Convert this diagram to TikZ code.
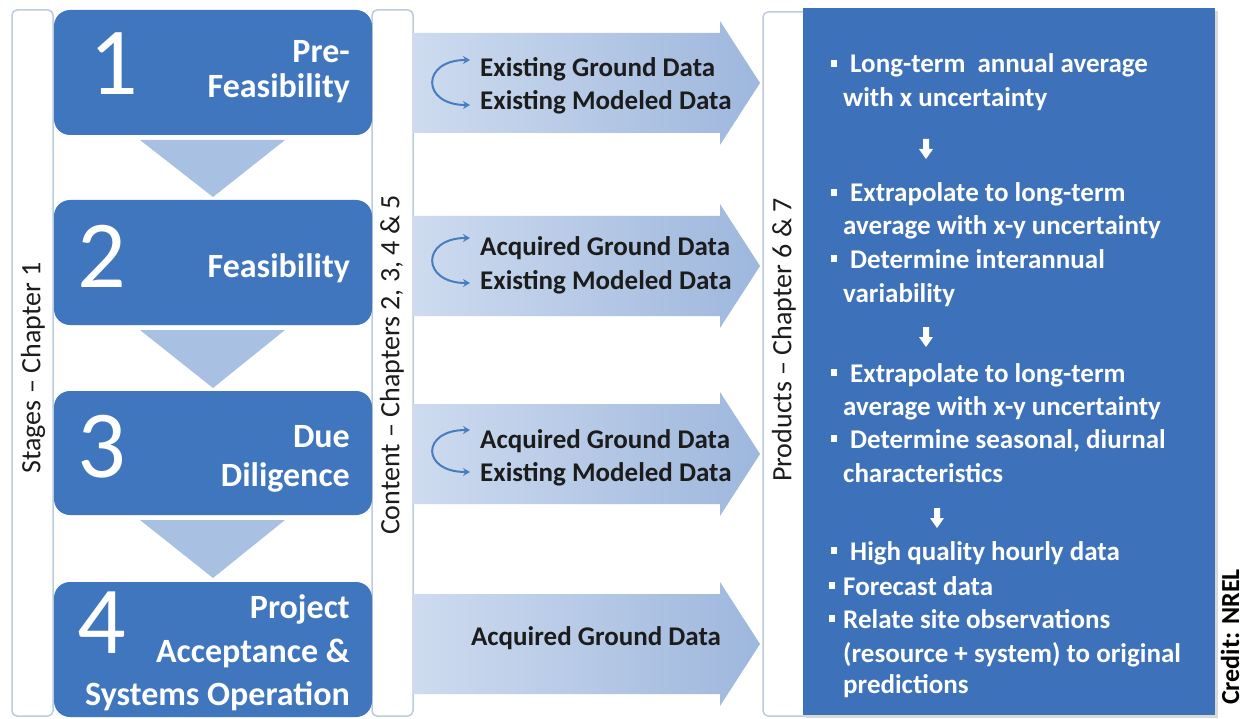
\documentclass[tikz,border=0pt]{standalone}
\usepackage{fontspec}
\setmainfont{Carlito}
\usetikzlibrary{arrows.meta}
\definecolor{stageblue}{RGB}{63,118,190}
\definecolor{prodblue}{RGB}{61,114,186}
\definecolor{tri}{RGB}{168,192,226}
\definecolor{barline}{RGB}{188,203,222}
\definecolor{arrL}{RGB}{206,219,239}
\definecolor{arrR}{RGB}{158,183,221}
\definecolor{curlc}{RGB}{70,125,190}
\definecolor{txt}{RGB}{28,28,28}
\newcommand{\cArrow}[1]{\shade[left color=arrL, right color=arrR] (413,#1-50) -- (720,#1-50) -- (720,#1-62) -- (760,#1) -- (720,#1+62) -- (720,#1+50) -- (413,#1+50) -- cycle;}
\newcommand{\dArrow}[2]{\fill[white] (#1-3,#2) -- (#1+3,#2) -- (#1+3,#2+10) -- (#1+7,#2+10) -- (#1,#2+20) -- (#1-7,#2+10) -- (#1-3,#2+10) -- cycle;}
\newcommand{\pBullet}[2]{\fill[white] (#1-3,#2-13) rectangle (#1+3,#2-6);}
\begin{document}
\begin{tikzpicture}[x=1pt,y=-1pt,
  bar/.style={draw=barline, line width=1.5pt, fill=white, rounded corners=5pt},
  stagebox/.style={fill=stageblue, rounded corners=16pt},
  num/.style={text=white, inner sep=0pt, font=\fontsize{96}{96}\selectfont},
  stagetxt/.style={text=white, inner sep=0pt, anchor=base east, font=\bfseries\fontsize{34}{36}\selectfont},
  sidelabel/.style={text=txt, inner sep=0pt, rotate=90, font=\fontsize{28}{30}\selectfont},
  arrtxt/.style={text=txt, inner sep=0pt, anchor=base west, font=\bfseries\fontsize{27}{30}\selectfont},
  ptxt/.style={text=white, inner sep=0pt, anchor=base west, font=\bfseries\fontsize{27}{30}\selectfont},
  curlarrow/.style={draw=curlc, line width=2pt, {Stealth[length=7pt,width=8pt]}-{Stealth[length=7pt,width=8pt]}}
]
\useasboundingbox (0,0) rectangle (1246,719);
\fill[white] (0,0) rectangle (1246,719);

% side bars
\draw[bar] (12,10) rectangle (53,716);
\draw[bar] (372,10) rectangle (413,716);
\draw[bar] (763,12) rectangle (830,716);

% stage boxes
\fill[stagebox] (54,10) rectangle (372,135);
\fill[stagebox] (54,200) rectangle (372,325);
\fill[stagebox] (54,391) rectangle (372,515);
\fill[stagebox] (54,582) rectangle (372,717);

% triangles between stages
\fill[tri] (140,140) -- (285,140) -- (213,197) -- cycle;
\fill[tri] (140,330) -- (285,330) -- (213,388) -- cycle;
\fill[tri] (140,520) -- (285,520) -- (213,578) -- cycle;

% stage numbers
\node[num] (n1) at (114,64) {1};
\node[num] (n2) at (102,256) {2};
\node[num] (n3) at (102,447) {3};
\node[num] (n4) at (102,623) {4};

% stage texts
\node[stagetxt] (s1a) at (350,63) {Pre-};
\node[stagetxt] (s1b) at (350,98) {Feasibility};
\node[stagetxt] (s2a) at (350,277) {Feasibility};
\node[stagetxt] (s3a) at (350,447) {Due};
\node[stagetxt] (s3b) at (350,486) {Diligence};
\node[stagetxt] (s4a) at (350,618) {Project};
\node[stagetxt] (s4b) at (350,662) {Acceptance \&};
\node[stagetxt] (s4c) at (350,705) {Systems Operation};

% side labels
\node[sidelabel] (lstages) at (33,368) {Stages – Chapter 1};
\node[sidelabel] (lcontent) at (392,365) {Content – Chapters 2, 3, 4 \& 5};
\node[sidelabel] (lproducts) at (784,340) {Products – Chapter 6 \& 7};

% content arrows
\cArrow{83}
\cArrow{266}
\cArrow{454}
\cArrow{644}

\node[arrtxt] (a1a) at (480,77) {Existing Ground Data};
\node[arrtxt] (a1b) at (480,110) {Existing Modeled Data};
\node[arrtxt] (a2a) at (480,255) {Acquired Ground Data};
\node[arrtxt] (a2b) at (480,289) {Existing Modeled Data};
\node[arrtxt] (a3a) at (480,448) {Acquired Ground Data};
\node[arrtxt] (a3b) at (480,481) {Existing Modeled Data};
\node[arrtxt, anchor=base] (a4a) at (596,645) {Acquired Ground Data};

% curled arrows
\coordinate (c1t) at (470,60);  \coordinate (c1b) at (470,105);
\coordinate (c2t) at (470,238); \coordinate (c2b) at (470,283);
\coordinate (c3t) at (470,430); \coordinate (c3b) at (470,472);
\draw[curlarrow] (c1t) .. controls (421,60) and (421,105) .. (c1b);
\draw[curlarrow] (c2t) .. controls (421,238) and (421,283) .. (c2b);
\draw[curlarrow] (c3t) .. controls (421,430) and (421,472) .. (c3b);

% products box
\fill[black!15] (806,11) rectangle (1218,718);
\fill[prodblue] (803,8) rectangle (1215,715);

\pBullet{834}{73}
\node[ptxt] (p1) at (850,73) {Long-term~ annual average};
\node[ptxt] (p2) at (843,107) {with x uncertainty};
\dArrow{926}{139}
\pBullet{834}{202}
\node[ptxt] (p3) at (850,202) {Extrapolate to long-term};
\node[ptxt] (p4) at (843,235) {average with x-y uncertainty};
\pBullet{834}{268}
\node[ptxt] (p5) at (850,268) {Determine interannual};
\node[ptxt] (p6) at (843,302) {variability};
\dArrow{926}{327}
\pBullet{834}{382}
\node[ptxt] (p7) at (850,382) {Extrapolate to long-term};
\node[ptxt] (p8) at (843,415) {average with x-y uncertainty};
\pBullet{834}{448}
\node[ptxt] (p9) at (850,448) {Determine seasonal, diurnal};
\node[ptxt] (p10) at (843,482) {characteristics};
\dArrow{937}{508}
\pBullet{834}{560}
\node[ptxt] (p11) at (850,560) {High quality hourly data};
\pBullet{832}{595}
\node[ptxt] (p12) at (843,595) {Forecast data};
\pBullet{832}{628}
\node[ptxt] (p13) at (843,628) {Relate site observations};
\node[ptxt] (p14) at (843,662) {(resource + system) to original};
\node[ptxt] (p15) at (843,693) {predictions};

% credit
\node[sidelabel, font=\bfseries\fontsize{26}{30}\selectfont, text=black] (credit) at (1230,637) {Credit: NREL};
\end{tikzpicture}
\end{document}
